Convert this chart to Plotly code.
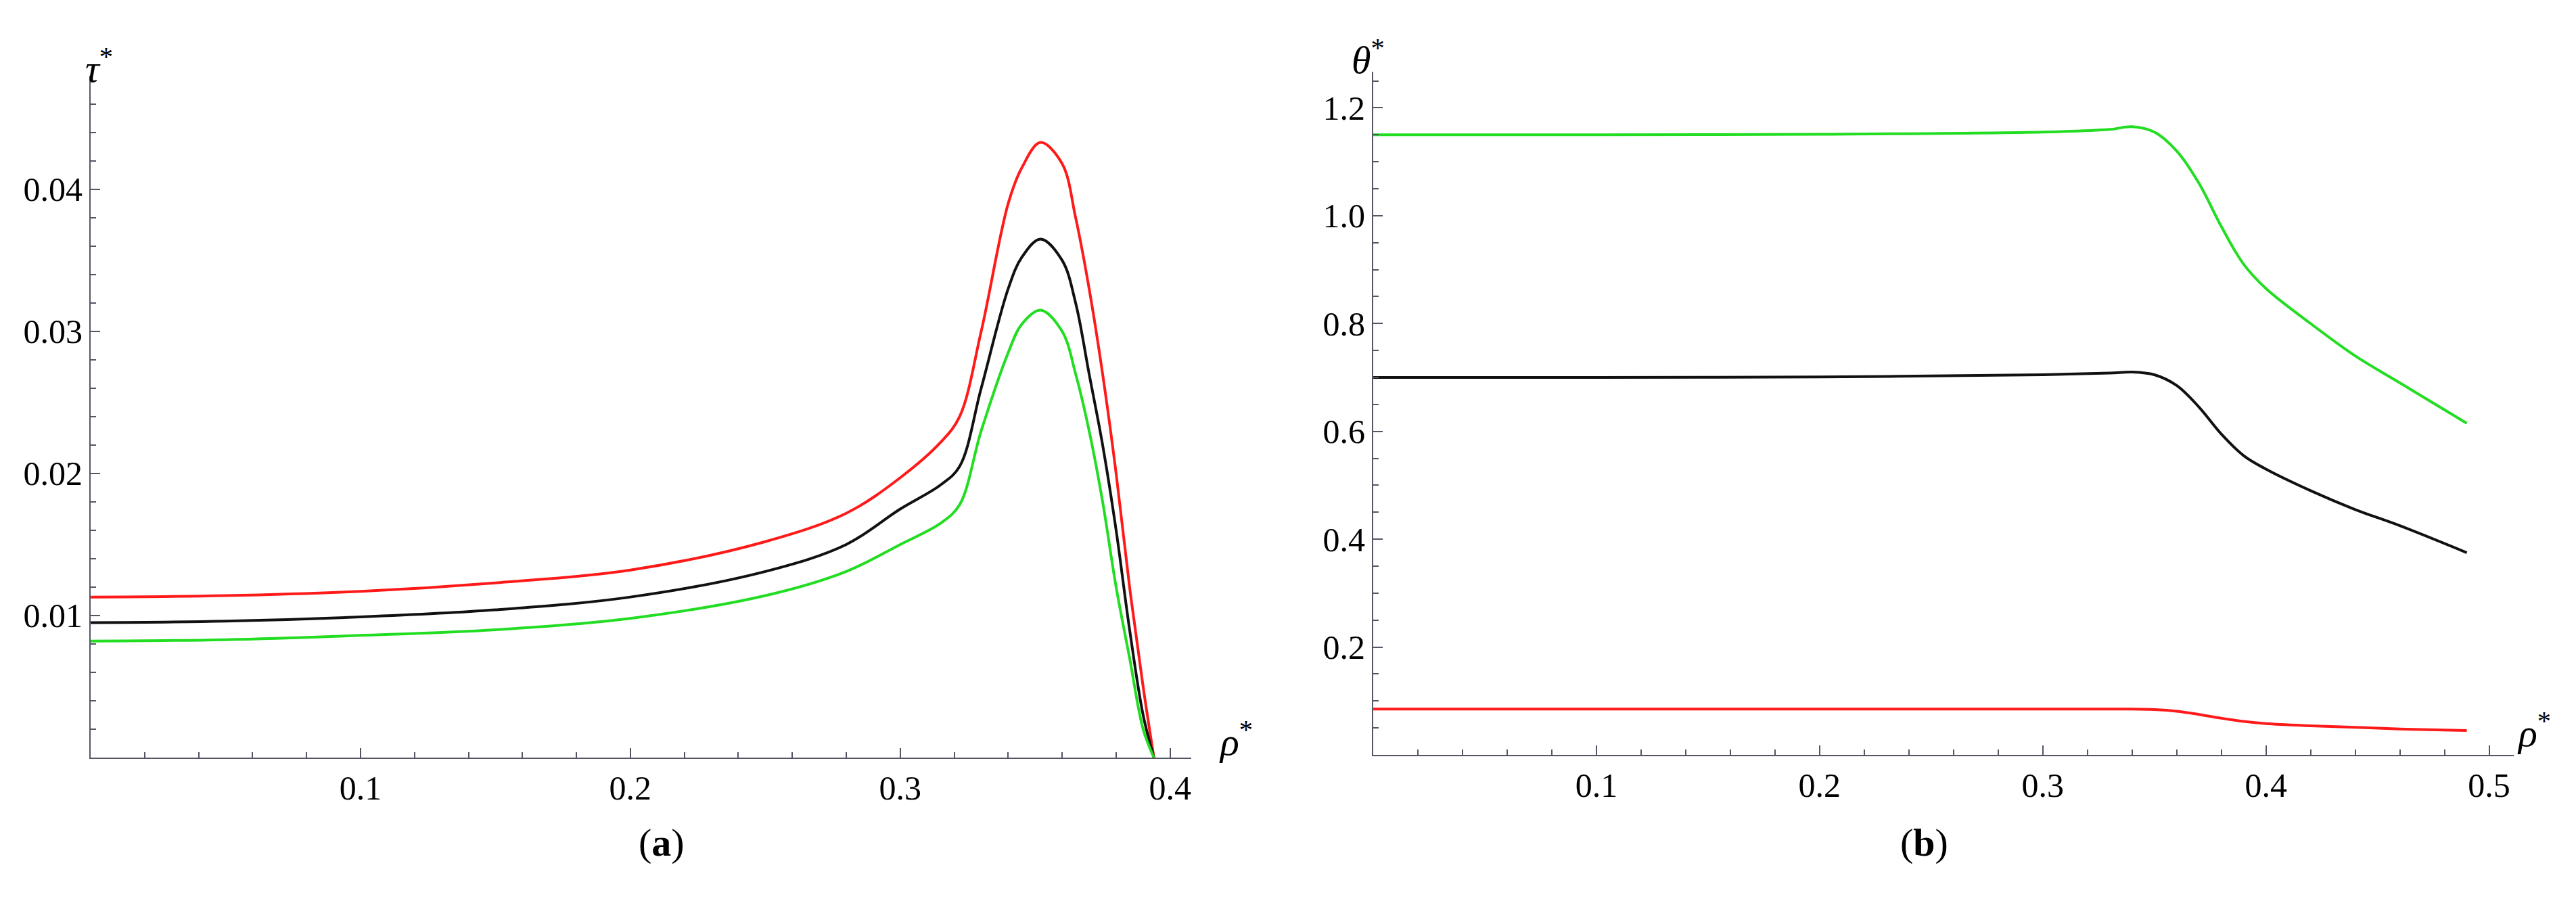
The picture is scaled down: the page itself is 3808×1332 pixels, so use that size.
import plotly.graph_objects as go

# Panel (a): tau* vs rho*
rho_a = [0.0, 0.05, 0.1, 0.15, 0.2, 0.25, 0.28, 0.3, 0.315, 0.322, 0.33, 0.34, 0.345, 0.352,
         0.36, 0.365, 0.37, 0.375, 0.38, 0.385, 0.39, 0.394]
tau_red = [0.0113, 0.0114, 0.0117, 0.0123, 0.0132, 0.0152, 0.0172, 0.0197, 0.0222, 0.0240, 0.030, 0.039,
           0.0415, 0.0433, 0.0418, 0.038, 0.033, 0.027, 0.020, 0.012, 0.005, 0.0]
tau_black = [0.0095, 0.0096, 0.0099, 0.0104, 0.0113, 0.0131, 0.0150, 0.0175, 0.0192, 0.0205, 0.026, 0.033,
             0.0352, 0.0365, 0.0350, 0.032, 0.027, 0.022, 0.016, 0.009, 0.003, 0.0]
tau_green = [0.0082, 0.0083, 0.0086, 0.0090, 0.0098, 0.0114, 0.0131, 0.0150, 0.0165, 0.0178, 0.023, 0.0285,
             0.0305, 0.0315, 0.0300, 0.027, 0.023, 0.018, 0.012, 0.007, 0.002, 0.0]

# Panel (b): theta* vs rho*
rho_b = [0.0, 0.1, 0.2, 0.3, 0.33, 0.34, 0.35, 0.36, 0.37, 0.38, 0.39, 0.4, 0.42, 0.44, 0.46, 0.49]
theta_green = [1.15, 1.15, 1.151, 1.155, 1.16, 1.165, 1.155, 1.12, 1.06, 0.98, 0.91, 0.865, 0.80, 0.74, 0.69, 0.615]
theta_black = [0.70, 0.70, 0.701, 0.705, 0.708, 0.71, 0.705, 0.685, 0.645, 0.595, 0.555, 0.53, 0.49, 0.455, 0.425, 0.375]
theta_red = [0.085, 0.085, 0.085, 0.085, 0.085, 0.085, 0.084, 0.081, 0.075, 0.068, 0.062, 0.058, 0.054, 0.051, 0.048, 0.045]

RED, BLACK, GREEN = "#ff1a1a", "#111111", "#22dd22"
FONT = "Liberation Serif, DejaVu Serif, serif"

fig = go.Figure()
for ys, c in [(tau_red, RED), (tau_black, BLACK), (tau_green, GREEN)]:
    fig.add_trace(go.Scatter(x=rho_a, y=ys, mode="lines", line=dict(color=c, width=4, shape="spline", smoothing=1),
                             xaxis="x", yaxis="y", showlegend=False))
for ys, c in [(theta_green, GREEN), (theta_black, BLACK), (theta_red, RED)]:
    fig.add_trace(go.Scatter(x=rho_b, y=ys, mode="lines", line=dict(color=c, width=4, shape="spline", smoothing=1),
                             xaxis="x2", yaxis="y2", showlegend=False))

axis_common = dict(showgrid=False, zeroline=False, showline=True, linecolor="#555566", linewidth=2,
                   ticks="inside", ticklen=14, tickwidth=2, tickcolor="#555566",
                   tickfont=dict(family=FONT, size=50, color="black"))
minor = lambda d: dict(dtick=d, ticks="inside", ticklen=8, tickwidth=1.5, tickcolor="#555566")

fig.update_layout(
    width=3808, height=1332, margin=dict(l=0, r=0, t=0, b=0),
    paper_bgcolor="white", plot_bgcolor="white",
    font=dict(family=FONT),
    xaxis=dict(domain=[0.0331, 0.4603], range=[0, 0.4078],
               tickvals=[0.1, 0.2, 0.3, 0.4], minor=minor(0.02), anchor="y", **axis_common),
    yaxis=dict(domain=[0.1652, 0.922], range=[0, 0.048], tickvals=[0.01, 0.02, 0.03, 0.04],
               tickformat=".2f", minor=minor(0.002), anchor="x", **axis_common),
    xaxis2=dict(domain=[0.531, 0.9737], range=[0, 0.511], tickvals=[0.1, 0.2, 0.3, 0.4, 0.5],
                minor=minor(0.02), anchor="y2", **axis_common),
    yaxis2=dict(domain=[0.1682, 0.9264], range=[0, 1.267], tickvals=[0.2, 0.4, 0.6, 0.8, 1.0, 1.2],
                tickformat=".1f", minor=minor(0.05), anchor="x2", **axis_common),
)

ann = [
    (116 / 3808, 1 - 51 / 1332, "<i>τ</i><sup>*</sup>"),
    (1819 / 3808, 1 - 1123 / 1332, "<i>ρ</i><sup>*</sup>"),
    (934 / 3808, 1 - 1272 / 1332, "(<b>a</b>)"),
    (2014 / 3808, 1 - 38 / 1332, "<i>θ</i><sup>*</sup>"),
    (3765 / 3808, 1 - 1110 / 1332, "<i>ρ</i><sup>*</sup>"),
    (2874 / 3808, 1 - 1272 / 1332, "(<b>b</b>)"),
]
for x, y, t in ann:
    fig.add_annotation(x=x, y=y, xref="paper", yref="paper", text=t, showarrow=False,
                       font=dict(family=FONT, size=58, color="black"))

fig.write_html("out.html")
